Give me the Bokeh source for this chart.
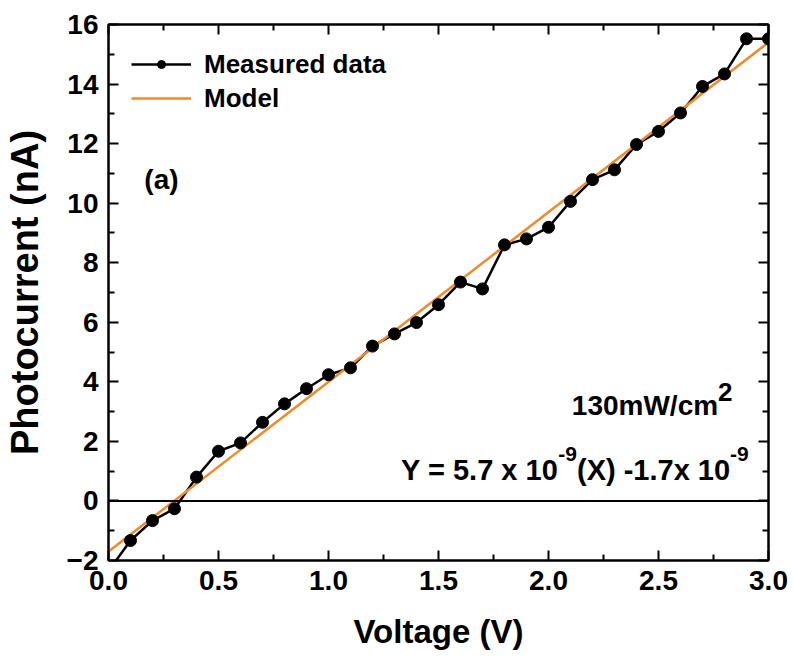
from bokeh.plotting import figure
from bokeh.models import (Span, Label, LinearAxis, Range1d, FixedTicker,
                          NumeralTickFormatter, CustomJSTickFormatter)
from bokeh.embed import file_html
from bokeh.resources import INLINE

# ---------------- data ----------------
voltage = [0.0, 0.1, 0.2, 0.3, 0.4, 0.5, 0.6, 0.7, 0.8, 0.9, 1.0,
           1.1, 1.2, 1.3, 1.4, 1.5, 1.6, 1.7, 1.8, 1.9, 2.0,
           2.1, 2.2, 2.3, 2.4, 2.5, 2.6, 2.7, 2.8, 2.9, 3.0]
photocurrent = [-2.35, -1.33, -0.66, -0.26, 0.80, 1.67, 1.95, 2.64, 3.26, 3.77, 4.24,
                4.47, 5.20, 5.61, 5.99, 6.59, 7.35, 7.12, 8.60, 8.80, 9.19,
                10.06, 10.79, 11.12, 11.97, 12.41, 13.03, 13.92, 14.34, 15.52, 15.52]
model_slope = 5.7
model_intercept = -1.7
model_x = [0.0, 3.0]
model_y = [model_slope * v + model_intercept for v in model_x]

x_ticks = [0.0, 0.5, 1.0, 1.5, 2.0, 2.5, 3.0]
y_ticks = [-2, 0, 2, 4, 6, 8, 10, 12, 14, 16]
x_minor = [(a + b) / 2 for a, b in zip(x_ticks[:-1], x_ticks[1:])]
y_minor = [(a + b) / 2 for a, b in zip(y_ticks[:-1], y_ticks[1:])]

series_names = ["Measured data", "Model"]
panel_label = "(a)"
intensity_label = "130mW/cm"
intensity_sup = "2"
eq_parts = ["Y = 5.7 x 10", "-9", "(X) -1.7x 10", "-9"]

X_MIN, X_MAX = 0.0, 3.0
Y_MIN, Y_MAX = -2.0, 16.0

W, H = 793, 660
BL, BR, BT, BB = 107, 25, 24, 100
MAJOR_LEN, MINOR_LEN = 10, 6

FONT = "Liberation Sans"
ORANGE = "#EE8B2E"

# Arial / Liberation Sans Bold advance widths (per em)
AW = {' ': .278, '(': .333, ')': .333, '-': .333, '.': .278, '/': .278,
      '=': .584, 'X': .667, 'Y': .667, 'x': .556, 'c': .556, 'm': .889,
      'W': .944}


def text_width(s, size):
    return sum(AW.get(ch, .556) for ch in s) * size


p = figure(width=W, height=H, output_backend="svg", toolbar_location=None,
           x_range=Range1d(X_MIN, X_MAX), y_range=Range1d(Y_MIN, Y_MAX),
           min_border_left=BL, min_border_right=BR, min_border_top=BT,
           min_border_bottom=BB)

p.background_fill_color = "white"
p.border_fill_color = "white"
p.grid.visible = False
p.outline_line_color = "black"
p.outline_line_width = 2

# zero line
p.add_layout(Span(location=0, dimension="width", line_color="black", line_width=2))

# data
p.line(voltage, photocurrent, line_color="black", line_width=2.5,
       legend_label=series_names[0])
p.line(model_x, model_y, line_color=ORANGE, line_width=2.5,
       legend_label=series_names[1])
p.scatter(voltage, photocurrent, size=12, marker="circle", fill_color="black",
          line_color="black", legend_label=series_names[0])


def style_axis(ax, ticks, minor, show_labels, fmt=None):
    ax.ticker = FixedTicker(ticks=ticks, minor_ticks=minor)
    ax.axis_line_color = "black"
    ax.axis_line_width = 2
    ax.major_tick_in = MAJOR_LEN
    ax.major_tick_out = 0
    ax.minor_tick_in = MINOR_LEN
    ax.minor_tick_out = 0
    ax.major_tick_line_color = "black"
    ax.minor_tick_line_color = "black"
    ax.major_tick_line_width = 2
    ax.minor_tick_line_width = 2
    if show_labels:
        ax.major_label_text_font = FONT
        ax.major_label_text_font_style = "bold"
        ax.major_label_text_font_size = "28px"
        ax.major_label_text_color = "black"
        ax.major_label_standoff = 10
        if fmt is not None:
            ax.formatter = fmt
    else:
        ax.formatter = CustomJSTickFormatter(code="return ''")
        ax.major_label_text_font_size = "0px"
        ax.major_label_standoff = 0


xa = p.xaxis[0]
ya = p.yaxis[0]
style_axis(xa, x_ticks, x_minor, True, NumeralTickFormatter(format="0.0"))
style_axis(ya, y_ticks, y_minor, True)

xa.axis_label = "Voltage (V)"
ya.axis_label = "Photocurrent (nA)"
for ax, st, fs in ((xa, 20, "33px"), (ya, 18, "38px")):
    ax.axis_label_text_font = FONT
    ax.axis_label_text_font_style = "bold"
    ax.axis_label_text_font_size = fs
    ax.axis_label_text_color = "black"
    ax.axis_label_standoff = st

top = LinearAxis()
right = LinearAxis()
style_axis(top, x_ticks, x_minor, False)
style_axis(right, y_ticks, y_minor, False)
p.add_layout(top, "above")
p.add_layout(right, "right")

# legend
lg = p.legend[0]
lg.location = "top_left"
lg.margin = 23
lg.padding = 10
lg.border_line_color = None
lg.background_fill_alpha = 0
lg.label_text_font = FONT
lg.label_text_font_style = "bold"
lg.label_text_font_size = "26px"
lg.label_text_color = "black"
lg.glyph_width = 60
lg.glyph_height = 20
lg.label_height = 34
lg.spacing = 0
lg.label_standoff = 13

# annotations
p.add_layout(Label(x=0.163, y=10.79, text=panel_label, text_font=FONT,
                   text_font_style="bold", text_font_size="28px",
                   text_baseline="middle", text_align="left", text_color="black"))

# intensity
ix, iy = 2.106, 3.20
p.add_layout(Label(x=ix, y=iy, text=intensity_label, text_font=FONT,
                   text_font_style="bold", text_font_size="28px",
                   text_baseline="alphabetic", text_align="left", text_color="black"))
p.add_layout(Label(x=ix, y=iy, x_offset=text_width(intensity_label, 28), y_offset=14,
                   text=intensity_sup, text_font=FONT,
                   text_font_style="bold", text_font_size="26px",
                   text_baseline="alphabetic", text_align="left", text_color="black"))

# equation
ex, ey = 1.33, 1.05
off = 0.0
for i, part in enumerate(eq_parts):
    sup = (i % 2 == 1)
    size = 21 if sup else 29
    p.add_layout(Label(x=ex, y=ey, x_offset=off, y_offset=16 if sup else 0,
                       text=part, text_font=FONT, text_font_style="bold",
                       text_font_size=f"{size}px", text_baseline="alphabetic",
                       text_align="left", text_color="black"))
    off += text_width(part, size)

open("out.html", "w").write(file_html(p, INLINE))
